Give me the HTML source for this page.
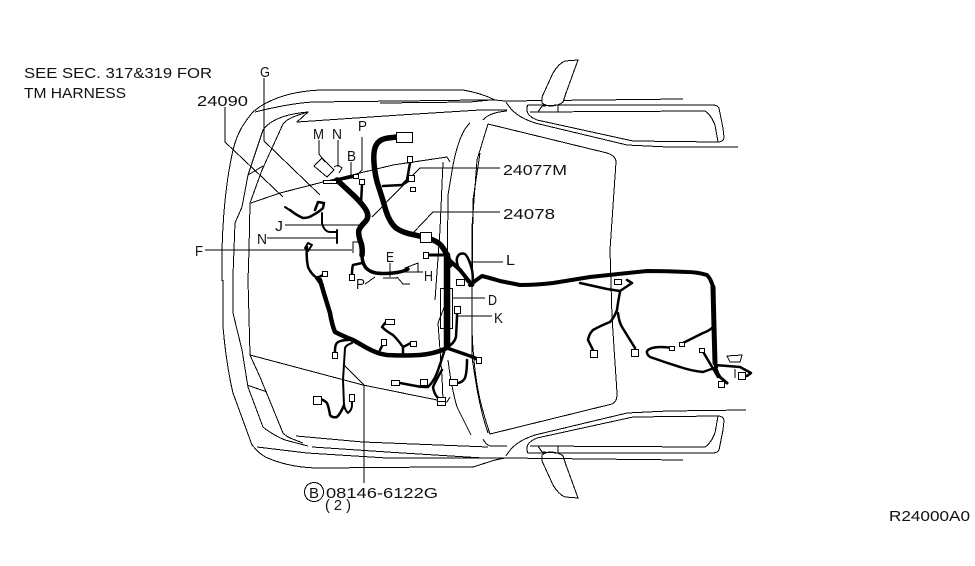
<!DOCTYPE html>
<html><head><meta charset="utf-8"><style>
html,body{margin:0;padding:0;background:#fff;width:975px;height:566px;overflow:hidden}
svg{display:block}
.t path,.t rect,.t circle{fill:none;stroke:#000;stroke-width:1;stroke-linejoin:round;shape-rendering:crispEdges}
.c rect{fill:#fff;stroke:#000;stroke-width:1;shape-rendering:crispEdges}
.w path{fill:none;stroke:#000;stroke-linejoin:round;stroke-linecap:round}
text{font-family:"Liberation Sans",sans-serif;font-size:15px;fill:#111;stroke:none}
</style></head><body>
<svg width="975" height="566" viewBox="0 0 975 566" xmlns="http://www.w3.org/2000/svg">
<g class="t">
<!-- body top -->
<path d="M222 281C221 240 224 190 233 150C238 130 245 122 252 113C262 103 280 96 295 93C305 91 315 90 325 90L463 90C475 92 487 96 495 100L505 101L683 99"/>
<path d="M255 112C275 107 295 103 313 102L400 101L480 100L495 100M380 103L470 102L490 100"/>
<path d="M233 281L233 275L235 223L242 207L248 175L263 130C270 120 285 114 308 112L297 122L400 115L480 110L507 110"/>
<path d="M248 281L249 250L250 203L262 170L283 124C288 118 295 116 308 112"/>
<path d="M248 175L263 166"/>
<path d="M251 203L280 193L323 182L393 165L447 157L450 162"/>
<path d="M443 162L440 230L435 300"/>
<path d="M470 123C462 130 457 145 453 165L448 195L447 300L438 323L442 377L443 400"/>
<path d="M480 153L473 200L472 300L472 357C476 385 480 410 488 433"/>
<path d="M483 120C487 115 495 112 507 111"/>
<!-- windshield -->
<path d="M488 124L607 153C613 155 616 158 616 162L610 250L612 317L617 393C617 399 616 402 612 404L490 434C482 410 474 385 472 330L472 250L472 227L477 160L488 124"/>
<!-- right upper door -->
<path d="M506 102C512 112 520 118 535 123L627 145L668 147L738 147"/>
<path d="M528 105L712 105C716 105 718 106 719 108L723 128L724 137C724 140 722 142 718 142L633 141L537 120C530 117 527 114 527 110C527 107 527 106 528 105Z"/>
<path d="M530 112L705 111C710 114 713 120 715 125L718 142"/>
<path d="M578 60L565 61C560 63 556 68 553 73L542 97L542 103C545 105 547 106 550 106C556 106 561 104 563 102L566 93L578 60Z" style="fill:#fff"/>
<path d="M542 106L558 105L558 112L538 112L542 106"/>
<!-- bottom right door -->
<path d="M506 456C512 446 520 440 535 435L627 413L668 411L746 410"/>
<path d="M528 453L712 453C716 453 718 452 719 450L723 430L724 421C724 418 722 416 718 416L633 417L537 438C530 441 527 444 527 448C527 451 527 452 528 453Z"/>
<path d="M530 446L705 447C710 444 713 438 715 433L718 416"/>
<path d="M578 498L565 497C560 495 556 490 553 485L542 461L542 455C545 453 547 452 550 452C556 452 561 454 563 456L566 465L578 498Z" style="fill:#fff"/>
<path d="M542 452L558 453L558 446L538 446L542 452"/>
<!-- bottom -->
<path d="M223 280L223 327C225 350 228 372 233 393L252 445C258 452 262 456 270 459C285 465 300 468 320 468L440 467L473 467L495 460L505 458L683 460"/>
<path d="M233 280L233 313L242 350L248 387L263 427C270 433 280 438 285 440L308 446"/>
<path d="M248 280L250 355L260 377L283 433C287 437 290 438 295 440L303 443"/>
<path d="M247 385L267 392"/>
<path d="M250 355L363 385L437 400L447 402L450 397"/>
<path d="M296 436L363 442L488 447"/>
<path d="M312 447L387 452L483 458"/>
<path d="M257 447L307 453L387 458L497 458L520 458"/>
<path d="M483 439C485 443 487 445 490 446L507 446"/>
<path d="M448 360C451 385 455 400 457 407L471 435"/>
<!-- leaders -->
<path d="M264 78L264 141L320 195"/>
<path d="M225 107L225 142L283 197"/>
<path d="M319 140L319 154L325 162"/>
<path d="M338 140L338 167"/>
<path d="M351 162L351 175"/>
<path d="M362 137L362 170L355 177"/>
<path d="M500 168L420 168L372 217"/>
<path d="M500 212L433 212L413 233"/>
<path d="M285 225L360 225"/>
<path d="M267 238L337 238"/>
<path d="M205 250L352 250"/>
<path d="M353 253L353 242L362 242"/>
<path d="M390 263L390 277"/>
<path d="M383 278L397 278M397 277L403 284L410 284M365 284L375 277"/>
<path d="M418 263L405 268L405 272L418 272Z"/>
<path d="M418 272L423 272"/>
<path d="M470 262L503 262"/>
<rect x="440.500" y="288.500" width="12" height="40"/>
<path d="M452 298L485 298"/>
<path d="M457 316L492 316"/>
<path d="M345 366L364 385L364 483"/>
<path d="M314 166L322 158L334 170L327 177Z"/>
<path d="M334 167L338 165L342 168L339 173"/>
<path d="M727 356L742 355L740 362L730 362Z"/>
<path d="M735 369L735 378"/>
<circle cx="314" cy="492" r="9.5"/>
</g>
<g class="w">
<path stroke-width="5.5" d="M337 180L350 192Q362 203 366 210Q370 217 365 222Q360 227 359 230Q358 233 360 240Q363 247 362 255"/>
<path stroke-width="3.5" d="M362 255Q362 263 366 268Q370 272 376 273Q383 274 393 273Q403 272 408 269"/>
<path stroke-width="3" d="M337 180L356 176"/>
<path stroke-width="5.5" d="M397 137L388 138Q380 139 376.500 144.500Q373 150 374 163Q375 177 379 188Q383 200 386 211Q390 223 396 228Q403 233 415 235Q427 238 433 240Q440 243 443 248Q447 253 450 265"/>
<path stroke-width="6.5" d="M447 255L447 347"/>
<path stroke-width="4" d="M447 258L460 270L472 285"/>
<path stroke-width="2.500" d="M473 285Q473 275 472 270Q469 258 465 254Q459 252 457 258Q456 264 460 270Q464 276 468 282"/>
<path stroke-width="4" d="M470 285Q476 280 482 276Q490 278 500 281Q510 283 520 285Q536 285 553 283Q571 280 590 277Q618 274 647 271Q667 271 687 272Q697 272 707 275Q711 279 713 287"/>
<path stroke-width="5" d="M713 287L714 327L715 363"/>
<path stroke-width="3" d="M715 363Q716 371 720 377L727 383"/>
<path stroke-width="2.500" d="M580 283L607 289L620 291L632 283L627 280M620 292Q618 302 617 310Q614 318 610 322Q600 326 593 330Q589 334 588 340L593 350M618 313Q619 322 622 327L635 348"/>
<path stroke-width="2.500" d="M713 327Q709 331 703 333L681 344"/>
<path stroke-width="2.500" d="M672 348Q660 346 652 348Q646 350 647 353Q648 357 653 358Q667 363 680 367Q692 371 703 372L717 367"/>
<path stroke-width="2.500" d="M702 350L718 377M715 365L740 367L751 373L747 376L742 375"/>
<path stroke-width="3" d="M426 255L443 255"/>
<path stroke-width="3.500" d="M447 348L473 357L479 360"/>
<path stroke-width="2.500" d="M467 360Q467 372 465 378Q462 383 457 383L453 382"/>
<path stroke-width="2.500" d="M457 312L457 317L456 337Q454 344 447 347"/>
<path stroke-width="4.500" d="M320 280Q325 297 330 313Q332 325 335 332Q345 337 353 340Q360 344 367 348Q378 354 387 355Q403 356 420 355Q433 354 445 349"/>
<path stroke-width="2.500" d="M307 247Q306 258 308 267Q311 274 317 278L325 274"/>
<path stroke-width="4" d="M317 278L322 285"/>
<path stroke-width="2.500" d="M335 352L335 350Q335 344 338 342Q342 340 348 340"/>
<path stroke-width="2" d="M352 343Q346 345 345 348L343 380L344 405Q345 410 348 413Q352 410 352 405L352 401"/>
<path stroke-width="2.500" d="M344 405Q341 413 337 417Q332 418 330 415Q329 408 327 403Q324 400 320 399"/>
<path stroke-width="2.500" d="M380 350L383 344"/>
<path stroke-width="2.500" d="M403 354L403 347Q398 340 393 335Q386 331 382 327L385 323M403 347L411 343"/>
<path stroke-width="2.500" d="M444 352Q441 362 437 373Q434 381 428 387Q421 387 416 386L400 383"/>
<path stroke-width="2.500" d="M442 370Q436 380 433 387Q434 394 438 398"/>
<path stroke-width="2.500" d="M362 185L361 203"/>
<path stroke-width="2.500" d="M410 163L407 180L402 185L383 186M402 185L410 180"/>
<path stroke-width="2.500" d="M290 210Q296 215 303 218Q309 218 313 215Q319 212 323 208L324 203L318 202L315 210"/>
<path stroke-width="2" d="M322 213L322 223C323 228 326 232 330 232L337 232M337 230L337 243"/>
<path stroke-width="2" d="M285 207L291 211M308 243L305 248L308 251L312 245L308 243"/>
<path stroke-width="2.500" d="M352 274Q352 268 353 265L362 263"/>
</g>
<g class="c">
<rect x="396.500" y="132.500" width="16" height="10"/>
<rect x="407.500" y="156.500" width="5" height="6"/>
<rect x="408.500" y="175.500" width="6" height="6"/>
<rect x="410.500" y="187.500" width="5" height="4"/>
<rect x="359.500" y="179.500" width="5" height="5"/>
<rect x="353.500" y="174.500" width="5" height="4"/>
<rect x="323.500" y="180.500" width="13" height="3"/>
<rect x="420.500" y="232.500" width="11" height="10"/>
<rect x="423.500" y="252.500" width="5" height="6"/>
<rect x="349.500" y="274.500" width="5" height="6"/>
<rect x="322.500" y="271.500" width="5" height="5"/>
<rect x="456.500" y="279.500" width="8" height="6"/>
<rect x="454.500" y="306.500" width="6" height="7"/>
<rect x="614.500" y="279.500" width="7" height="5"/>
<rect x="590.500" y="350.500" width="7" height="7"/>
<rect x="631.500" y="349.500" width="7" height="7"/>
<rect x="679.500" y="342.500" width="5" height="4"/>
<rect x="669.500" y="346.500" width="5" height="4"/>
<rect x="699.500" y="348.500" width="5" height="4"/>
<rect x="718.500" y="381.500" width="6" height="6"/>
<rect x="738.500" y="372.500" width="7" height="7"/>
<rect x="476.500" y="357.500" width="5" height="6"/>
<rect x="449.500" y="379.500" width="8" height="6"/>
<rect x="332.500" y="352.500" width="5" height="6"/>
<rect x="313.500" y="396.500" width="8" height="8"/>
<rect x="349.500" y="394.500" width="5" height="7"/>
<rect x="381.500" y="339.500" width="5" height="6"/>
<rect x="385.500" y="319.500" width="9" height="5"/>
<rect x="410.500" y="341.500" width="6" height="5"/>
<rect x="391.500" y="380.500" width="8" height="5"/>
<rect x="420.500" y="379.500" width="7" height="6"/>
<rect x="437.500" y="397.500" width="8" height="4"/>
<rect x="437.500" y="401.500" width="8" height="4"/>
</g>
<text x="24" y="78" textLength="188" lengthAdjust="spacingAndGlyphs">SEE SEC. 317&amp;319 FOR</text>
<text x="24" y="98" textLength="102" lengthAdjust="spacingAndGlyphs">TM HARNESS</text>
<text x="260" y="77" textLength="10" lengthAdjust="spacingAndGlyphs">G</text>
<text x="197" y="106" textLength="51" lengthAdjust="spacingAndGlyphs">24090</text>
<text x="313" y="139" textLength="11" lengthAdjust="spacingAndGlyphs">M</text>
<text x="332" y="139" textLength="10" lengthAdjust="spacingAndGlyphs">N</text>
<text x="358" y="131" textLength="9" lengthAdjust="spacingAndGlyphs">P</text>
<text x="347" y="161" textLength="9" lengthAdjust="spacingAndGlyphs">B</text>
<text x="503" y="175" textLength="64" lengthAdjust="spacingAndGlyphs">24077M</text>
<text x="503" y="219" textLength="52" lengthAdjust="spacingAndGlyphs">24078</text>
<text x="275" y="231" textLength="8" lengthAdjust="spacingAndGlyphs">J</text>
<text x="257" y="244" textLength="10" lengthAdjust="spacingAndGlyphs">N</text>
<text x="195" y="256" textLength="8" lengthAdjust="spacingAndGlyphs">F</text>
<text x="386" y="262" textLength="8" lengthAdjust="spacingAndGlyphs">E</text>
<text x="424" y="281" textLength="9" lengthAdjust="spacingAndGlyphs">H</text>
<text x="356" y="289" textLength="9" lengthAdjust="spacingAndGlyphs">P</text>
<text x="506" y="265" textLength="9" lengthAdjust="spacingAndGlyphs">L</text>
<text x="488" y="305" textLength="9" lengthAdjust="spacingAndGlyphs">D</text>
<text x="494" y="323" textLength="9" lengthAdjust="spacingAndGlyphs">K</text>
<text x="309" y="498" textLength="10" lengthAdjust="spacingAndGlyphs">B</text>
<text x="326" y="498" textLength="112" lengthAdjust="spacingAndGlyphs">08146-6122G</text>
<text x="325" y="510" textLength="26" lengthAdjust="spacingAndGlyphs">( 2 )</text>
<text x="889" y="521" textLength="81" lengthAdjust="spacingAndGlyphs">R24000A0</text>
</svg>
</body></html>
